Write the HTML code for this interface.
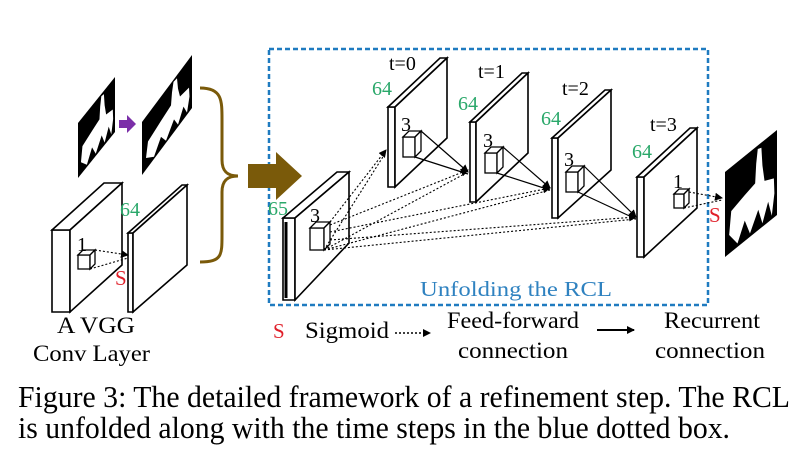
<!DOCTYPE html>
<html><head><meta charset="utf-8"><style>
html,body{margin:0;padding:0;background:#fff;}
svg{display:block;}
text{font-family:"Liberation Serif",serif;}
</style></head><body>
<svg width="806" height="465" viewBox="0 0 806 465" xmlns="http://www.w3.org/2000/svg">
<defs>
<marker id="ah" markerWidth="8" markerHeight="8" refX="7" refY="4" orient="auto" markerUnits="userSpaceOnUse"><path d="M0,0 L8,4 L0,8 z" fill="#000"/></marker>
<g id="deer">
<rect x="0" y="0" width="100" height="100" fill="#000"/>
<polygon points="8,78 12,52 38,46 58,42 60,20 63,4 70,6 72,28 76,48 94,54 95,72 90,96 83,76 72,96 64,76 48,96 38,76 24,96" fill="#fff"/>
</g>
</defs>
<rect x="269" y="49" width="439" height="256" fill="none" stroke="#1f7bc0" stroke-width="2.5" stroke-dasharray="5,3"/>

<use href="#deer" transform="matrix(0.37,-0.46,0,0.55,78,123)"/>
<use href="#deer" transform="matrix(0.5,-0.67,0,0.53,142,122)"/>
<use href="#deer" transform="matrix(0.52,-0.42,0,0.85,725,172)"/>

<polygon points="119,120 127,120 127,115 136,124 127,133 127,128 119,128" fill="#7b2fa8"/>
<path d="M200,88 C222,88 222,100 222,120 L222,160 C222,172 228,176 238,176 C228,176 222,180 222,192 L222,235 C222,255 222,262 200,262" fill="none" stroke="#7a5a0a" stroke-width="3"/>
<polygon points="248,164 276,164 276,152 302,176 276,200 276,188 248,188" fill="#7a5a0a"/>

<g fill="#fff" stroke="#000" stroke-width="1.6">
<polygon points="52,230 70,230 70,312 52,312"/>
<polygon points="52,230 104,183 122,183 70,230"/>
<polygon points="70,230 122,183 122,265 70,312"/>
<polygon points="128,233 133,233 133,312 128,312"/>
<polygon points="128,233 182,185 187,185 133,233"/>
<polygon points="133,233 187,185 187,265 133,312"/>
<polygon points="283,218 295,218 295,300 283,300"/>
<polygon points="283,218 337,172 349,172 295,218"/>
<polygon points="295,218 349,172 349,243 295,300"/>
<polygon points="388,107 395,107 395,187 388,187"/>
<polygon points="388,107 440,58 447,58 395,107"/>
<polygon points="395,107 447,58 447,138 395,187"/>
<polygon points="470,122 476,122 476,202 470,202"/>
<polygon points="470,122 522,73 528,73 476,122"/>
<polygon points="476,122 528,73 528,153 476,202"/>
<polygon points="552,138 558,138 558,218 552,218"/>
<polygon points="552,138 605,90 611,90 558,138"/>
<polygon points="558,138 611,90 611,170 558,218"/>
<polygon points="637,177 644,177 644,257 637,257"/>
<polygon points="637,177 690,128 697,128 644,177"/>
<polygon points="644,177 697,128 697,208 644,257"/>
</g>
<line x1="286" y1="222" x2="286" y2="298" stroke="#000" stroke-width="3"/>

<g fill="#fff" stroke="#000" stroke-width="1.3">
<rect x="78" y="255" width="12" height="14"/><polygon points="78,255 83,250 95,250 90,255"/><polygon points="90,255 95,250 95,264 90,269"/>
<rect x="310" y="228" width="14" height="22"/><polygon points="310,228 316,222 330,222 324,228"/><polygon points="324,228 330,222 330,244 324,250"/>
<rect x="403" y="137" width="12" height="20"/><polygon points="403,137 409,131 421,131 415,137"/><polygon points="415,137 421,131 421,151 415,157"/>
<rect x="485" y="153" width="12" height="20"/><polygon points="485,153 491,147 503,147 497,153"/><polygon points="497,153 503,147 503,167 497,173"/>
<rect x="566" y="172" width="12" height="20"/><polygon points="566,172 572,166 584,166 578,172"/><polygon points="578,172 584,166 584,186 578,192"/>
<rect x="674" y="194" width="10" height="14"/><polygon points="674,194 679,189 689,189 684,194"/><polygon points="684,194 689,189 689,203 684,208"/>
</g>

<g stroke="#000" stroke-width="1.1" stroke-dasharray="2,2" fill="none">
<line x1="95" y1="250" x2="128" y2="255" marker-end="url(#ah)"/>
<line x1="90" y1="269" x2="128" y2="258"/>
<line x1="330" y1="222" x2="386" y2="150" marker-end="url(#ah)"/>
<line x1="324" y1="250" x2="386" y2="152"/>
<line x1="330" y1="225" x2="468" y2="170" marker-end="url(#ah)"/>
<line x1="324" y1="250" x2="468" y2="172"/>
<line x1="330" y1="232" x2="550" y2="188" marker-end="url(#ah)"/>
<line x1="324" y1="250" x2="550" y2="190"/>
<line x1="330" y1="240" x2="636" y2="217" marker-end="url(#ah)"/>
<line x1="324" y1="250" x2="636" y2="219"/>
<line x1="689" y1="192" x2="722" y2="198" marker-end="url(#ah)"/>
<line x1="684" y1="208" x2="722" y2="200"/>
</g>
<g stroke="#000" stroke-width="1.2" fill="none">
<line x1="421" y1="131" x2="468" y2="172" marker-end="url(#ah)"/>
<line x1="415" y1="157" x2="468" y2="174"/>
<line x1="503" y1="147" x2="550" y2="188" marker-end="url(#ah)"/>
<line x1="497" y1="173" x2="550" y2="190"/>
<line x1="584" y1="166" x2="636" y2="217" marker-end="url(#ah)"/>
<line x1="578" y1="192" x2="636" y2="219"/>
</g>

<g font-size="20" fill="#000">
<text x="77" y="251">1</text>
<text x="310" y="222">3</text>
<text x="401" y="131">3</text>
<text x="483" y="147">3</text>
<text x="564" y="166">3</text>
<text x="673" y="188">1</text>
<text x="389" y="70">t=0</text>
<text x="478" y="78">t=1</text>
<text x="562" y="95">t=2</text>
<text x="650" y="131">t=3</text>
</g>
<g font-size="20" fill="#2aa86a">
<text x="120" y="216">64</text>
<text x="268" y="215">65</text>
<text x="372" y="95">64</text>
<text x="458" y="110">64</text>
<text x="541" y="125">64</text>
<text x="632" y="158">64</text>
</g>
<g font-size="21" fill="#e0202a">
<text x="115" y="285">S</text>
<text x="709" y="222">S</text>
<text x="273" y="338">S</text>
</g>
<text x="420" y="296" font-size="21" fill="#2f82c0" textLength="192" lengthAdjust="spacingAndGlyphs">Unfolding the RCL</text>

<g font-size="23" fill="#000">
<text x="57" y="333" textLength="78" lengthAdjust="spacingAndGlyphs">A VGG</text>
<text x="33" y="361" textLength="117" lengthAdjust="spacingAndGlyphs">Conv Layer</text>
<text x="305" y="338" textLength="84" lengthAdjust="spacingAndGlyphs">Sigmoid</text>
<text x="447" y="328" textLength="132" lengthAdjust="spacingAndGlyphs">Feed-forward</text>
<text x="458" y="358" textLength="110" lengthAdjust="spacingAndGlyphs">connection</text>
<text x="664" y="328" textLength="96" lengthAdjust="spacingAndGlyphs">Recurrent</text>
<text x="655" y="358" textLength="110" lengthAdjust="spacingAndGlyphs">connection</text>
</g>
<line x1="395" y1="333" x2="430" y2="333" stroke="#000" stroke-width="1.5" stroke-dasharray="2,2" marker-end="url(#ah)"/>
<line x1="597" y1="330" x2="634" y2="330" stroke="#000" stroke-width="2" marker-end="url(#ah)"/>

<g font-size="31" fill="#000">
<text x="18" y="407" textLength="772" lengthAdjust="spacingAndGlyphs">Figure 3: The detailed framework of a refinement step. The RCL</text>
<text x="18" y="438" textLength="712" lengthAdjust="spacingAndGlyphs">is unfolded along with the time steps in the blue dotted box.</text>
</g>
</svg>
</body></html>
